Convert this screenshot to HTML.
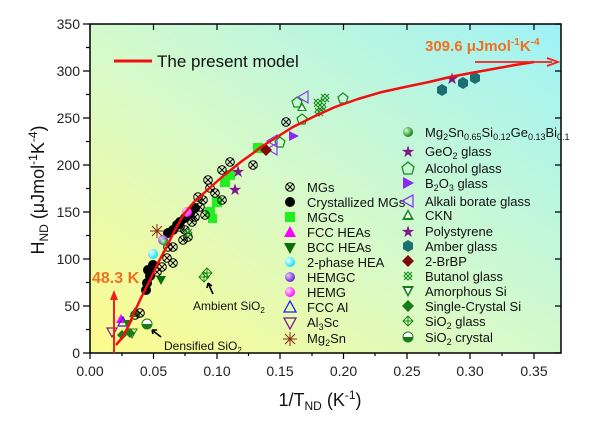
<!DOCTYPE html>
<html><head><meta charset="utf-8"><style>
body{margin:0;background:#fff;}
svg{display:block;font-family:"Liberation Sans",sans-serif;}
</style></head><body>
<svg width="600" height="421" viewBox="0 0 600 421" xmlns="http://www.w3.org/2000/svg">
<defs>
<linearGradient id="bg" x1="0" y1="1" x2="1" y2="0">
<stop offset="0" stop-color="#fdfb8c"/>
<stop offset="0.45" stop-color="#d8fac8"/>
<stop offset="1" stop-color="#9ff2f6"/>
</linearGradient>
<g id="mg"><circle r="4.3" fill="none" stroke="#000" stroke-width="1"/><path d="M-3,-3L3,3M-3,3L3,-3" stroke="#000" stroke-width="1"/></g>
<g id="bu"><path d="M-4,-4L4,4M-4,4L4,-4M-4,0L0,-4L4,0L0,4Z" stroke="#1a8a1a" fill="none" stroke-width="1"/></g>
<g id="sio"><path d="M0,-5L5,0L0,5L-5,0Z M0,-5V5M-5,0H5" stroke="#1a8a1a" fill="none"/></g>
<radialGradient id="sg" cx="0.35" cy="0.35" r="0.7"><stop offset="0" stop-color="#cfc"/><stop offset="1" stop-color="#0a7a0a"/></radialGradient>
<radialGradient id="sp" cx="0.35" cy="0.35" r="0.7"><stop offset="0" stop-color="#dcf"/><stop offset="1" stop-color="#6a1ad0"/></radialGradient>
<radialGradient id="sm" cx="0.35" cy="0.35" r="0.7"><stop offset="0" stop-color="#fdf"/><stop offset="1" stop-color="#f0f"/></radialGradient>
<radialGradient id="sc" cx="0.35" cy="0.35" r="0.7"><stop offset="0" stop-color="#eff"/><stop offset="1" stop-color="#0df"/></radialGradient>
</defs>
<rect x="90" y="24" width="471" height="329" fill="url(#bg)" stroke="#000" stroke-width="1.5"/>
<g stroke="#000" stroke-width="1.2">
<path d="M83,353H90M83,306H90M83,259H90M83,212H90M83,165H90M83,118H90M83,71H90M83,24H90"/>
<path d="M86,329.5H90M86,282.5H90M86,235.5H90M86,188.5H90M86,141.5H90M86,94.5H90M86,47.5H90"/>
<path d="M561,353h-6M561,306h-6M561,259h-6M561,212h-6M561,165h-6M561,118h-6M561,71h-6M561,24h-6"/>
<path d="M90,353v6M153.5,353v6M217,353v6M280,353v6M343.5,353v6M407,353v6M470,353v6M534,353v6"/>
<path d="M122,353v3M185,353v3M248.5,353v3M312,353v3M375,353v3M439,353v3M502,353v3"/>
<path d="M90,24v6M153.5,24v6M217,24v6M280,24v6M343.5,24v6M407,24v6M470,24v6M534,24v6"/>
</g>
<g font-size="14" fill="#222" text-anchor="end">
<text x="80" y="358">0</text><text x="80" y="311">50</text><text x="80" y="264">100</text><text x="80" y="217">150</text><text x="80" y="170">200</text><text x="80" y="123">250</text><text x="80" y="76">300</text><text x="80" y="29">350</text>
</g>
<g font-size="14" fill="#222" text-anchor="middle">
<text x="90" y="376">0.00</text><text x="153.5" y="376">0.05</text><text x="217" y="376">0.10</text><text x="280" y="376">0.15</text><text x="343.5" y="376">0.20</text><text x="407" y="376">0.25</text><text x="470" y="376">0.30</text><text x="534" y="376">0.35</text>
</g>
<text x="320" y="406" font-size="18" text-anchor="middle" fill="#111">1/T<tspan font-size="12" dy="4">ND</tspan><tspan dy="-4"> (K</tspan><tspan font-size="12" dy="-7">-1</tspan><tspan dy="7">)</tspan></text>
<text transform="translate(44,190) rotate(-90)" font-size="18" text-anchor="middle" fill="#111">H<tspan font-size="12" dy="4">ND</tspan><tspan dy="-4"> (μJmol</tspan><tspan font-size="12" dy="-7">-1</tspan><tspan dy="7">K</tspan><tspan font-size="12" dy="-7">-4</tspan><tspan dy="7">)</tspan></text>

<g>
<g fill="#22ee22"><rect x="205" y="207" width="10" height="10"/><rect x="212" y="197" width="10" height="10"/><rect x="220" y="177" width="10" height="10"/><rect x="225" y="170" width="10" height="10"/><rect x="253" y="143" width="10" height="10"/><rect x="208" y="214" width="9" height="9"/></g>
<g fill="#000"><circle cx="147" cy="283" r="5"/><circle cx="148" cy="270" r="5"/><circle cx="150" cy="276" r="5"/><circle cx="146" cy="290" r="5"/><circle cx="153" cy="265" r="5"/><circle cx="173" cy="230" r="5"/><circle cx="168" cy="233" r="5"/><circle cx="177" cy="225" r="5"/><circle cx="185" cy="218" r="5"/><circle cx="195" cy="208" r="5"/><circle cx="180" cy="222" r="5"/><circle cx="190" cy="214" r="5"/></g>
<g>
<use href="#mg" x="168" y="247"/><use href="#mg" x="167" y="258"/><use href="#mg" x="162" y="267"/><use href="#mg" x="157" y="272"/><use href="#mg" x="173" y="263"/><use href="#mg" x="173" y="247"/><use href="#mg" x="188" y="237"/><use href="#mg" x="185" y="230"/><use href="#mg" x="195" y="217"/><use href="#mg" x="200" y="207"/><use href="#mg" x="208" y="180"/><use href="#mg" x="222" y="170"/><use href="#mg" x="230" y="162"/><use href="#mg" x="253" y="165"/><use href="#mg" x="215" y="193"/><use href="#mg" x="135" y="315"/><use href="#mg" x="222" y="200"/><use href="#mg" x="198" y="197"/><use href="#mg" x="205" y="215"/><use href="#mg" x="180" y="227"/><use href="#mg" x="192" y="222"/><use href="#mg" x="210" y="188"/><use href="#mg" x="286" y="122"/><use href="#mg" x="183" y="240"/><use href="#mg" x="203" y="200"/>
</g>
<g fill="#7a1a8a"><text x="238" y="177" font-size="16" text-anchor="middle">★</text><text x="235" y="195" font-size="16" text-anchor="middle">★</text><text x="452" y="84" font-size="16" text-anchor="middle">★</text></g>
<circle cx="187" cy="212" r="5" fill="url(#sm)"/><circle cx="153" cy="254" r="5" fill="url(#sc)"/><circle cx="163" cy="240" r="5" fill="url(#sp)"/><circle cx="164" cy="242" r="3.5" fill="url(#sg)"/>
<path d="M152,226l10,10M152,236l10,-10M157,224v14M150,231h14" stroke="#8b2a10" stroke-width="1"/>
<path d="M156,276h10l-5,9z" fill="#0d6d0d"/>
<use href="#bu" x="188" y="233"/><use href="#bu" x="325" y="98"/><use href="#bu" x="322" y="107"/><use href="#bu" x="319" y="112"/><use href="#bu" x="318" y="103"/>
<g fill="#1a7070"><polygon points="442,84 447,87 447,93 442,96 437,93 437,87"/><polygon points="463,77 468,80 468,86 463,89 458,86 458,80"/><polygon points="475,72 480,75 480,81 475,84 470,81 470,75"/></g>
<g fill="none" stroke="#1a8a1a" stroke-width="1.2"><polygon points="297,97 302,101 300,107 294,107 292,101"/><polygon points="302,114 307,118 305,124 299,124 297,118"/><polygon points="343,93 348,97 346,103 340,103 338,97"/><polygon points="280,137 285,141 283,147 277,147 275,141"/></g>
<g fill="none" stroke="#8a3af0" stroke-width="1.2"><polygon points="298,97 308,91 308,103"/><polygon points="267,141 277,135 277,147"/><polygon points="267,149 277,143 277,155"/></g>
<path d="M297,111l5,-9l5,9z" fill="#1a8a1a"/><path d="M299,110l3,-5l3,5z" fill="#fff"/>
<polygon points="266,144 272,150 266,156 260,150" fill="#7a0a0a"/>
<polygon points="289,131 299,136 289,141" fill="#8a2af0"/>
<path d="M116,323l5,-9l5,9z" fill="#f0f"/><path d="M118,326l5,-9l5,9z" fill="none" stroke="#2020f0" stroke-width="1.2"/>
<path d="M107,328h10l-5,9z" fill="none" stroke="#7a1a8a" stroke-width="1.2"/>
<polygon points="122,330 127,335 122,340 117,335" fill="#1a7a1a"/><polygon points="130,328 135,333 130,338 125,333" fill="#1a7a1a"/>
<path d="M123,320h10l-5,9z" fill="#1a7a1a"/><path d="M127,329h10l-5,9z" fill="none" stroke="#1a7a1a"/>
<path d="M129,317l6,-10l6,10z" fill="#1a7a1a"/><use href="#mg" x="140" y="313"/>
<circle cx="147" cy="324" r="5" fill="#fff" stroke="#1a7a1a"/><path d="M142,324a5,5 0 0 0 10,0z" fill="#1a7a1a"/>
<use href="#sio" x="207" y="273"/><use href="#sio" x="204" y="277"/>
</g>
<polyline points="116,345 122,338 128,327 134,313 141,298 151,278 158,263 166,248 175,230 184,214 194,202 204,193 213,185 222,177 232,169 242,161 252,154 261,147 277,137 293,127 313,117 335,107 358,99 382,92 405,87 429,82 450,77 471,73 493,69 515,65 534,62" fill="none" stroke="#f01010" stroke-width="2.5" stroke-linejoin="round"/>
<path d="M114,353V298" stroke="#f02020" stroke-width="2"/><path d="M110,300l4,-10l4,10z" fill="#f02020"/>
<text x="92" y="283" font-size="16" fill="#f07020" font-weight="bold">48.3 K</text>
<path d="M475,62H552" stroke="#f02020" stroke-width="1.8"/><path d="M547,58l11,4l-11,4" fill="none" stroke="#f02020" stroke-width="1.8"/>
<text x="425" y="51" font-size="15" fill="#f07020" font-weight="bold">309.6 μJmol<tspan font-size="10" dy="-6">-1</tspan><tspan dy="6">K</tspan><tspan font-size="10" dy="-6">-4</tspan></text>
<path d="M114,61H152" stroke="#f01010" stroke-width="3"/>
<text x="157" y="67" font-size="17" fill="#111">The present  model</text>
<path d="M152,330l9,7M152,330l5,0M152,330l1,4" stroke="#000" stroke-width="1.6"/>
<text x="164" y="350" font-size="12" fill="#111">Densified SiO<tspan font-size="8" dy="3">2</tspan></text>
<path d="M208,283l5,11M208,283l-1,5M208,283l4,3" stroke="#000" stroke-width="1.6"/>
<text x="193" y="310" font-size="12" fill="#111">Ambient SiO<tspan font-size="8" dy="3">2</tspan></text>
<g font-size="13" fill="#111">
<use href="#mg" x="290" y="187"/><text x="307" y="192">MGs</text>
<circle cx="290" cy="202" r="5" fill="#000"/><text x="307" y="207">Crystallized MGs</text>
<rect x="285" y="212" width="10" height="10" fill="#22ee22"/><text x="307" y="222">MGCs</text>
<path d="M284,237l6,-11l6,11z" fill="#f0f"/><text x="307" y="237">FCC HEAs</text>
<path d="M284,243h12l-6,11z" fill="#0d6d0d"/><text x="307" y="252">BCC HEAs</text>
<circle cx="290" cy="262" r="5" fill="url(#sc)"/><text x="307" y="267">2-phase HEA</text>
<circle cx="290" cy="277" r="5" fill="url(#sp)"/><text x="307" y="282">HEMGC</text>
<circle cx="290" cy="292" r="5" fill="url(#sm)"/><text x="307" y="297">HEMG</text>
<path d="M284,312l6,-11l6,11z" fill="none" stroke="#2020f0" stroke-width="1.3"/><text x="307" y="312">FCC Al</text>
<path d="M284,318h12l-6,11z" fill="none" stroke="#7a1a8a" stroke-width="1.3"/><text x="307" y="327">Al<tspan font-size="9" dy="3">3</tspan><tspan dy="-3">Sc</tspan></text>
<path d="M285,334l10,10M285,344l10,-10M290,332v14M283,339h14" stroke="#8b2a10"/><text x="307" y="343">Mg<tspan font-size="9" dy="3">2</tspan><tspan dy="-3">Sn</tspan></text>
</g>
<g font-size="13" fill="#111">
<circle cx="408" cy="132" r="5" fill="url(#sg)"/><text x="425" y="137">Mg<tspan font-size="9" dy="3">2</tspan><tspan dy="-3">Sn</tspan><tspan font-size="9" dy="3">0.65</tspan><tspan dy="-3">Si</tspan><tspan font-size="9" dy="3">0.12</tspan><tspan dy="-3">Ge</tspan><tspan font-size="9" dy="3">0.13</tspan><tspan dy="-3">Bi</tspan><tspan font-size="9" dy="3">0.1</tspan></text>
<text x="408" y="157" font-size="16" fill="#7a1a8a" text-anchor="middle">★</text><text x="425" y="156">GeO<tspan font-size="9" dy="3">2</tspan><tspan dy="-3"> glass</tspan></text>
<polygon points="408,162 414,167 412,174 404,174 402,167" fill="none" stroke="#1a8a1a" stroke-width="1.3"/><text x="425" y="173">Alcohol glass</text>
<polygon points="403,177 414,183 403,189" fill="#8a2af0"/><text x="425" y="188">B<tspan font-size="9" dy="3">2</tspan><tspan dy="-3">O</tspan><tspan font-size="9" dy="3">3</tspan><tspan dy="-3"> glass</tspan></text>
<polygon points="402,201 413,195 413,207" fill="none" stroke="#8a3af0" stroke-width="1.3"/><text x="425" y="206">Alkali borate glass</text>
<path d="M402,220l6,-11l6,11z" fill="#1a8a1a"/><path d="M405,218l3,-6l3,6z" fill="#fff"/><text x="425" y="220">CKN</text>
<text x="408" y="237" font-size="16" fill="#7a1a8a" text-anchor="middle">★</text><text x="425" y="236">Polystyrene</text>
<polygon points="408,240 413,243 413,249 408,252 403,249 403,243" fill="#1a7070"/><text x="425" y="251">Amber glass</text>
<polygon points="408,255 414,261 408,267 402,261" fill="#7a0a0a"/><text x="425" y="266">2-BrBP</text>
<use href="#bu" x="408" y="276"/><text x="425" y="281">Butanol glass</text>
<path d="M402,286h12l-6,11z" fill="#1a7a1a"/><path d="M405,288h6l-3,6z" fill="#fff"/><text x="425" y="296">Amorphous Si</text>
<polygon points="408,300 414,306 408,312 402,306" fill="#1a7a1a"/><text x="425" y="311">Single-Crystal Si</text>
<use href="#sio" x="408" y="321"/><text x="425" y="326">SiO<tspan font-size="9" dy="3">2</tspan><tspan dy="-3"> glass</tspan></text>
<circle cx="408" cy="337" r="5" fill="#fff" stroke="#1a7a1a"/><path d="M403,337a5,5 0 0 0 10,0z" fill="#1a7a1a"/><text x="425" y="342">SiO<tspan font-size="9" dy="3">2</tspan><tspan dy="-3"> crystal</tspan></text>
</g>
</svg>
</body></html>
